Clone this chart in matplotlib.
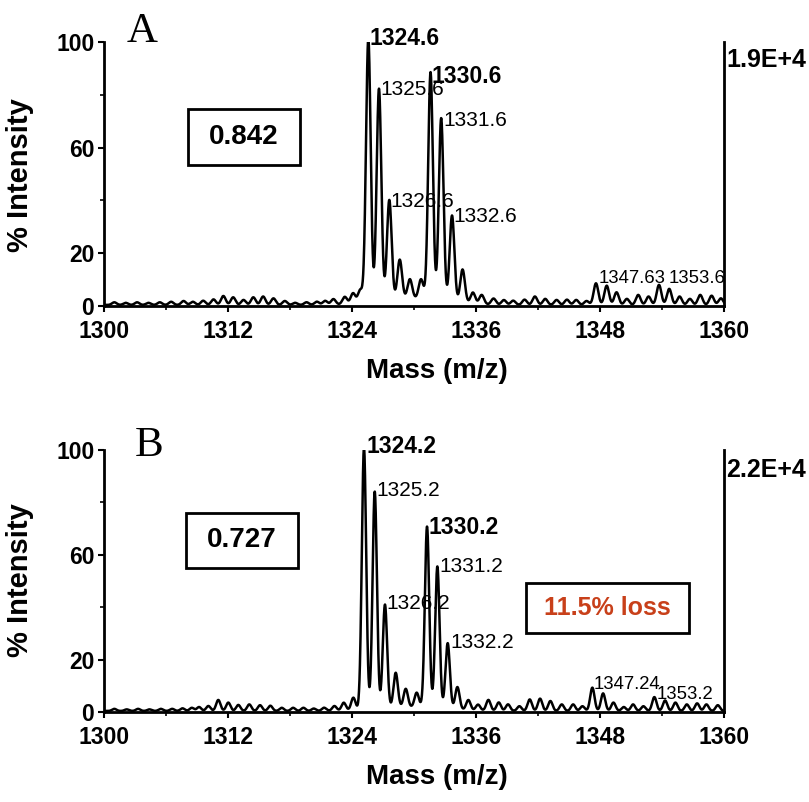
import numpy as np
import matplotlib
matplotlib.use('Agg')
import matplotlib.pyplot as plt
from matplotlib.patches import Rectangle

plt.rcParams['font.family'] = ['Liberation Sans', 'DejaVu Sans']

# ---- peak lists (m/z, % intensity) ----
mass_a = [1301.0, 1302.1, 1303.2, 1304.3, 1305.4, 1306.5, 1307.7, 1308.6, 1309.6, 1310.6,
          1311.55, 1312.5, 1313.5, 1314.45, 1315.4, 1316.4, 1317.5, 1318.5, 1319.6, 1320.6,
          1321.4, 1322.2, 1323.3, 1324.1, 1324.8, 1325.58, 1326.61, 1327.61, 1328.62, 1329.6,
          1330.68, 1331.6, 1332.63, 1333.68, 1334.7, 1335.7, 1336.55, 1337.7, 1338.7, 1339.6,
          1340.7, 1341.7, 1342.7, 1343.8, 1344.8, 1345.7, 1346.7, 1347.61, 1348.65, 1349.6,
          1350.6, 1351.7, 1352.7, 1353.71, 1354.7, 1355.7, 1356.7, 1357.7, 1358.8, 1359.7]
int_a = [1.0, 0.8, 1.0, 0.8, 1.0, 1.2, 1.5, 1.2, 1.6, 2.1,
         3.4, 2.9, 1.9, 2.9, 3.2, 2.5, 1.5, 0.8, 1.0, 1.2,
         1.5, 2.1, 2.8, 4.0, 5.0, 100, 80.5, 37.9, 14.9, 7.3,
         7.3, 86, 69, 32.6, 12.6, 4.2, 3.5, 2.3, 1.8, 1.6,
         2.0, 3.2, 2.3, 1.9, 2.0, 1.9, 1.5, 8.2, 7.3, 4.8,
         2.3, 3.8, 3.2, 7.6, 6.1, 3.2, 2.3, 3.8, 3.5, 2.5]

mass_b = [1301.0, 1302.2, 1303.3, 1304.4, 1305.5, 1306.6, 1307.6, 1308.5, 1309.2, 1310.1,
          1311.06, 1312.03, 1313.0, 1314.06, 1315.1, 1316.1, 1317.2, 1318.3, 1319.3, 1320.3,
          1321.3, 1322.3, 1323.2, 1324.13, 1325.16, 1326.2, 1327.19, 1328.23, 1329.2, 1330.26,
          1331.26, 1332.26, 1333.26, 1334.2, 1335.26, 1336.2, 1337.2, 1338.2, 1339.1, 1340.2,
          1341.2, 1342.2, 1343.2, 1344.3, 1345.4, 1346.3, 1347.26, 1348.3, 1349.3, 1350.3,
          1351.2, 1352.2, 1353.26, 1354.3, 1355.3, 1356.4, 1357.4, 1358.3, 1359.4]
int_b = [0.8, 0.6, 0.8, 0.6, 0.8, 0.8, 1.0, 1.2, 1.5, 1.9,
         4.2, 3.2, 2.3, 2.5, 2.2, 2.0, 1.2, 1.2, 1.2, 0.9,
         1.2, 1.8, 3.0, 4.8, 100, 83, 39.6, 13.3, 7.0, 5.5,
         69, 54, 25, 8.5, 3.8, 2.2, 4.1, 3.2, 2.5, 1.8,
         4.4, 4.7, 3.8, 2.5, 2.5, 1.8, 8.9, 6.7, 3.2, 1.5,
         2.5, 1.8, 5.3, 4.0, 3.2, 2.5, 2.9, 2.5, 2.2]

# peak annotations: text, m/z of left edge, % height of baseline, bold?
labels_a = [("1324.6", 1325.67, 98.9, True), ("1325.6", 1326.71, 79.9, False),
            ("1330.6", 1331.71, 84.6, True), ("1331.6", 1332.84, 68.2, False),
            ("1326.6", 1327.68, 37.4, False), ("1332.6", 1333.8, 31.9, False)]
small_a = [("1347.63", 1347.84, 8.7), ("1353.6", 1354.6, 8.7)]
labels_b = [("1324.2", 1325.36, 98.7, True), ("1325.2", 1326.32, 82.6, False),
            ("1330.2", 1331.39, 67.8, True), ("1331.2", 1332.45, 53.5, False),
            ("1326.2", 1327.36, 39.2, False), ("1332.2", 1333.48, 24.5, False)]
small_b = [("1347.24", 1347.42, 8.7), ("1353.2", 1353.48, 4.8)]

xticks = [1300, 1312, 1324, 1336, 1348, 1360]
yticks = [0, 20, 60, 100]


def spectrum(mz, masses, heights, sigma, hump):
    y = np.full_like(mz, 0.4)
    for m, h in zip(masses, heights):
        y += h * np.exp(-0.5 * ((mz - m) / sigma) ** 2)
    # broad background under the isotope clusters
    y += hump * np.exp(-0.5 * ((mz - 1330.0) / 3.2) ** 2)
    return y


mz = np.linspace(1300, 1360, 4001)

fig = plt.figure(figsize=(8.09, 8.02), dpi=100)
ax_a = fig.add_axes([104 / 809, 1 - 306 / 802, 620 / 809, 264 / 802])
ax_b = fig.add_axes([104 / 809, 1 - 712 / 802, 620 / 809, 262 / 802])

panels = [
    (ax_a, mass_a, int_a, 0.225, 2.5, labels_a, small_a, "A", (0.037, 1.001),
     "0.842", (0.1355, 0.534, 0.1806, 0.212), "1.9E+4", 0.905, 1 - 371 / 802, 1 - 175 / 802),
    (ax_b, mass_b, int_b, 0.21, 1.5, labels_b, small_b, "B", (0.05, 0.977),
     "0.727", (0.1323, 0.5496, 0.1806, 0.21), "2.2E+4", 0.897, 1 - 777 / 802, 1 - 580 / 802),
]

for (ax, ms, hs, sig, hump, labs, smalls, letter, lpos,
     ratio, box, scale, scale_y, xl_y, yl_y) in panels:
    ax.plot(mz, spectrum(mz, ms, hs, sig, hump), color='black', lw=1.8)
    ax.set_xlim(1300, 1360)
    ax.set_ylim(0, 100)
    ax.set_xticks(xticks)
    ax.set_xticks(np.arange(1306, 1360, 12), minor=True)
    ax.set_yticks(yticks)
    ax.set_yticks([40, 80], minor=True)
    ax.tick_params(axis='both', which='major', labelsize=16.5, width=1.5, length=4, pad=3)
    ax.tick_params(axis='both', which='minor', width=1.2, length=3)
    ax.tick_params(axis='x', which='major', pad=6)
    for t in ax.get_xticklabels() + ax.get_yticklabels():
        t.set_fontweight('bold')
    ax.spines['top'].set_visible(False)
    for s in ['left', 'bottom', 'right']:
        ax.spines[s].set_linewidth(2)

    for txt, x, y, bold in labs:
        ax.text(x, y, txt, fontsize=16.5 if bold else 15, fontweight='bold' if bold else 'normal',
                ha='left', va='baseline', clip_on=False)
    for txt, x, y in smalls:
        ax.text(x, y, txt, fontsize=13.3, ha='left', va='baseline', clip_on=False)

    ax.text(lpos[0], lpos[1], letter, transform=ax.transAxes, fontsize=31,
            family='Liberation Serif', ha='left', va='baseline')

    bx, by, bw, bh = box
    ax.add_patch(Rectangle((bx, by), bw, bh, transform=ax.transAxes, fill=False,
                           lw=2, edgecolor='black', clip_on=False))
    ax.text(bx + bw / 2, by + bh / 2, ratio, transform=ax.transAxes, fontsize=20,
            fontweight='bold', ha='center', va='center')

    ax.text(1.0032, scale_y, scale, transform=ax.transAxes, fontsize=18,
            fontweight='bold', ha='left', va='baseline', clip_on=False)

    fig.text(437 / 809, xl_y, "Mass (m/z)", fontsize=20, fontweight='bold',
             ha='center', va='center')
    fig.text(20 / 809, yl_y, "% Intensity", fontsize=21, fontweight='bold',
             ha='center', va='center', rotation=90)

# loss box in panel B
ax_b.add_patch(Rectangle((0.6806, 0.3015), 0.2629, 0.1909, transform=ax_b.transAxes,
                         fill=False, lw=2, edgecolor='black'))
ax_b.text(0.812, 0.397, "11.5% loss", transform=ax_b.transAxes, fontsize=18,
          fontweight='bold', color='#C8401A', ha='center', va='center')

fig.savefig('out.png', dpi=100)
